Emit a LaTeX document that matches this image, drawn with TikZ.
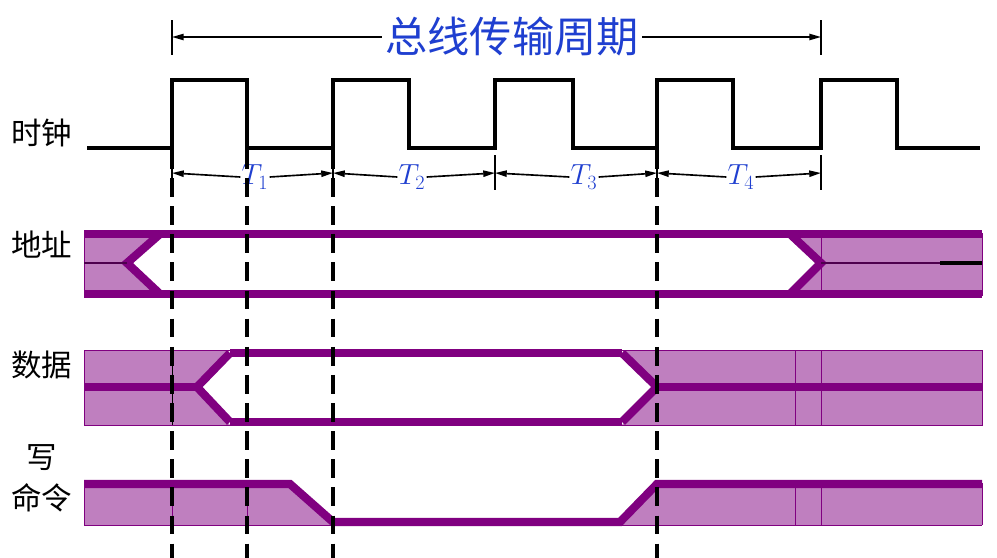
\documentclass[tikz,border=0pt]{standalone}
\usepackage{fontspec}
\setmainfont{Liberation Serif}
\newfontfamily\cjk{Noto Sans CJK SC}
\usetikzlibrary{arrows.meta}
\definecolor{busp}{HTML}{800080}
\definecolor{busf}{HTML}{BF7FBF}
\definecolor{tblue}{HTML}{1F3FD0}

\begin{document}
\begin{tikzpicture}[x=0.03cm, y=-0.03cm, >={Stealth[inset=0pt,length=10pt,angle'=30]},
    sig/.style={busp, line width=7pt},
    lbl/.style={font=\cjk\fontsize{26}{28}\selectfont, inner sep=0pt}]
    \useasboundingbox (0,0) rectangle (997,558);

    % titel
    \draw[line width=1.4pt] (172,20) -- (172,55);
    \draw[line width=1.4pt] (821,20) -- (821,55);
    \node[font=\cjk\fontsize{36}{38}\selectfont, text=tblue, fill=white, inner sep=3pt] (title) at (512,37) {总线传输周期};
    \draw[line width=1.4pt, ->] (title.west) -- (172,37);
    \draw[line width=1.4pt, ->] (title.east) -- (821,37);

    % labels
    \node[lbl] (clk) at (42,133) {时钟};
    \node[lbl] (adr) at (42,245) {地址};
    \node[lbl] (dat) at (42,365) {数据};
    \node[lbl] (wr1) at (42,458) {写};
    \node[lbl] (wr2) at (42,498) {命令};

    % takt
    \draw[line width=3.5pt] (87,148) -- (172,148) -- (172,80) -- (247,80) -- (247,148) -- (333,148) -- (333,80)
        -- (409,80) -- (409,148) -- (495,148) -- (495,80) -- (573,80) -- (573,148) -- (657,148) -- (657,80)
        -- (733,80) -- (733,148) -- (821,148) -- (821,80) -- (897,80) -- (897,148) -- (980,148);

    % T-pfeile
    \foreach \x in {172,333,495,657,821}
        \draw[line width=1.4pt] (\x,155) -- (\x,190);
    \foreach \a/\b/\m/\i in {172/333/255/1, 333/495/412/2, 495/657/584/3, 657/821/741/4} {
        \node[text=tblue, fill=white, inner sep=1pt, font=\fontsize{26}{28}\selectfont] (t\i) at (\m,177) {$T_{\i}$};
        \draw[line width=1.4pt, ->] (t\i.west) -- (\a,173);
        \draw[line width=1.4pt, ->] (t\i.east) -- (\b,173);
    }

    % adresse
    \fill[busf] (84,233) -- (160,233) -- (127,263) -- (160,295) -- (84,295) -- cycle;
    \fill[busf] (982,233) -- (790,233) -- (821,263) -- (790,295) -- (982,295) -- cycle;
    \draw[busp, thin] (84,233) rectangle (982,295);
    \draw[busp, thin] (821,233) -- (821,295);
    \draw[sig] (84,234) -- (982,234);
    \draw[sig] (84,294) -- (982,294);
    \draw[sig, line join=miter] (160,234) -- (127,263) -- (160,294);
    \draw[sig, line join=miter] (790,234) -- (821,263) -- (790,294);
    \draw[line width=2.5pt, busp!60!black] (84,263) -- (127,263);
    \draw[line width=2.5pt, busp!60!black] (821,263) -- (940,263);
    \draw[line width=3pt] (940,263) -- (982,263);

    % daten
    \fill[busf] (84,350) -- (230,350) -- (197,387) -- (230,425) -- (84,425) -- cycle;
    \fill[busf] (982,350) -- (622,350) -- (657,387) -- (622,425) -- (982,425) -- cycle;
    \draw[busp, thin] (84,350) rectangle (982,425);
    \draw[thin] (172,350) -- (172,425);
    \draw[busp, thin] (795,350) -- (795,425);
    \draw[busp, thin] (821,350) -- (821,425);
    \draw[sig] (84,387) -- (197,387);
    \draw[sig, line join=miter] (230,353) -- (197,387) -- (230,422);
    \draw[sig] (230,353) -- (622,353);
    \draw[sig] (230,422) -- (622,422);
    \draw[sig, line join=miter] (622,353) -- (657,387) -- (622,422);
    \draw[sig] (657,387) -- (982,387);

    % schreiben
    \fill[busf] (84,483) -- (290,483) -- (333,525) -- (84,525) -- cycle;
    \fill[busf] (620,525) -- (657,483) -- (982,483) -- (982,525) -- cycle;
    \draw[busp, thin] (84,525) -- (333,525);
    \draw[busp, thin] (620,525) -- (982,525);
    \draw[busp, thin] (84,483) -- (84,525);
    \draw[busp, thin] (982,483) -- (982,525);
    \foreach \x in {172,247,795,821}
        \draw[busp, thin] (\x,483) -- (\x,525);
    \draw[sig, line join=miter] (84,484) -- (290,484) -- (333,522) -- (620,522) -- (657,484) -- (982,484);

    % gestrichelt
    \foreach \x in {172,247,333,657}
        \draw[line width=3.5pt, dash pattern=on 16pt off 8pt] (\x,150) -- (\x,558);
\end{tikzpicture}
\end{document}
